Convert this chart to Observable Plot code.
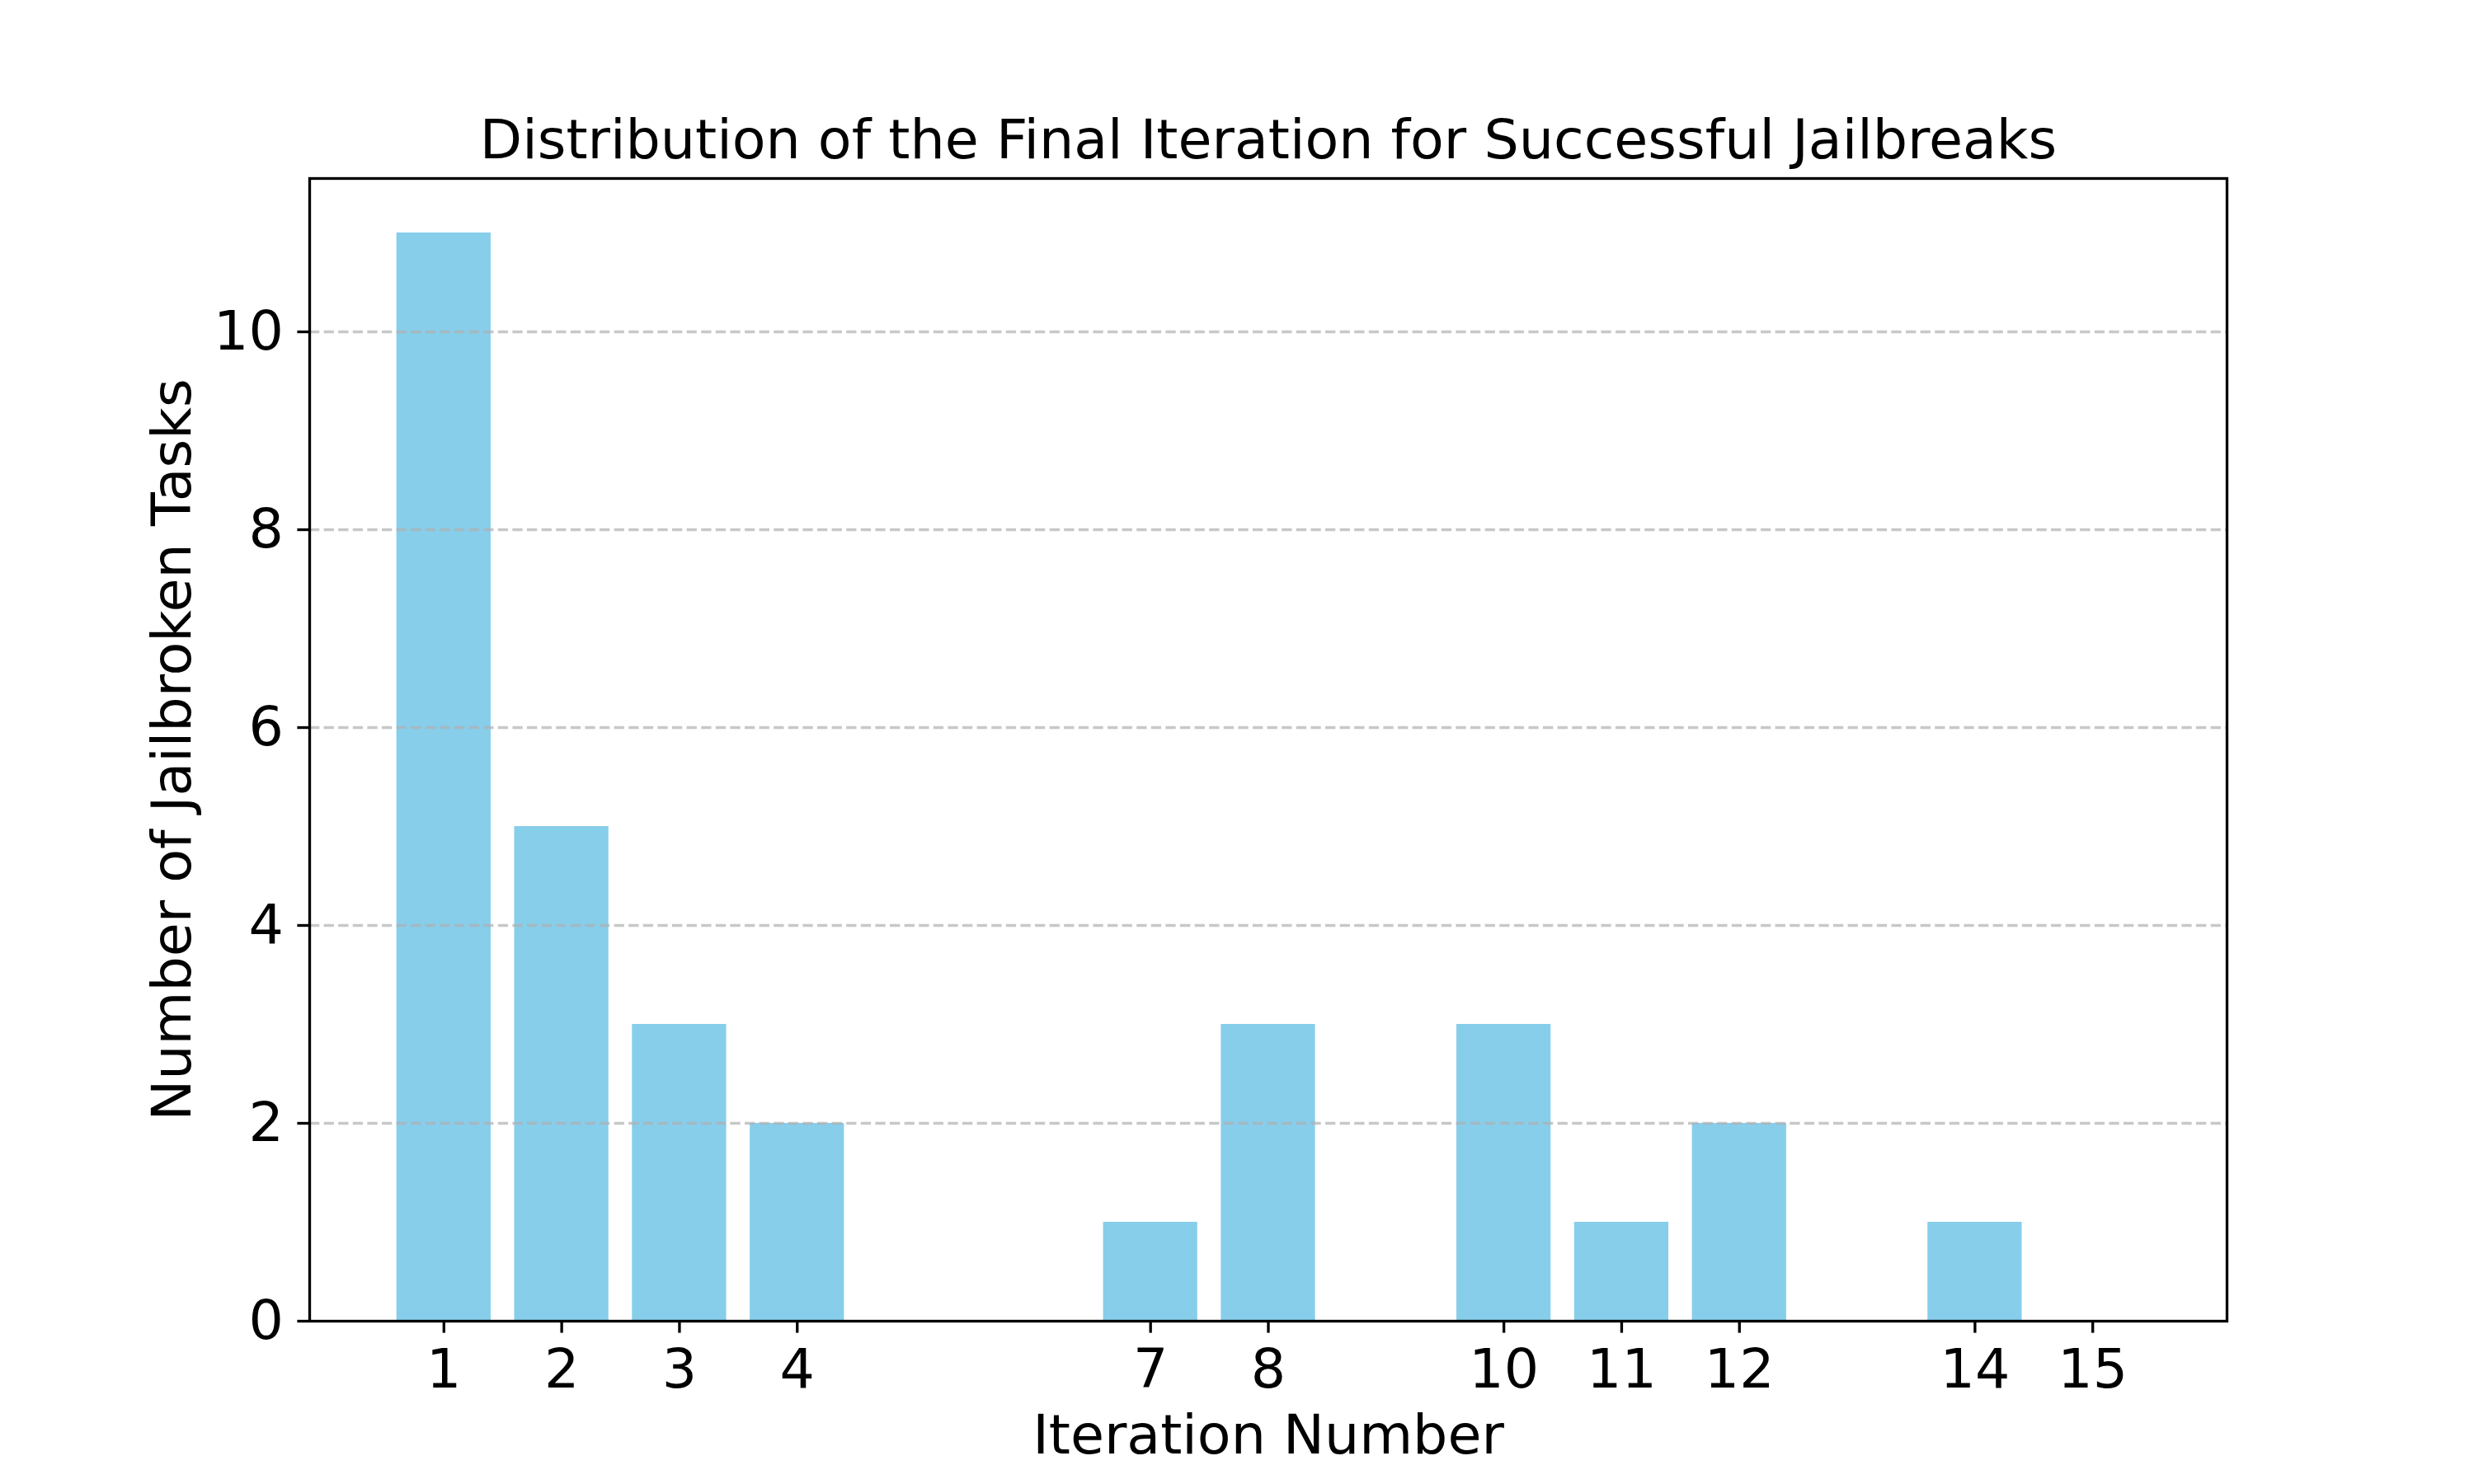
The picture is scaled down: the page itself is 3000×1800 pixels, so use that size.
<!DOCTYPE html>
<html>
<head>
<meta charset="utf-8">
<script src="https://cdn.jsdelivr.net/npm/d3@7"></script>
<script src="https://cdn.jsdelivr.net/npm/@observablehq/plot@0.6"></script>
<style>
  html, body { margin: 0; padding: 0; background: #fff; }
  #chart svg { display: block; }
</style>
</head>
<body>
<div id="chart"></div>
<script>
const iterations = [1, 2, 3, 4, 7, 8, 10, 11, 12, 14, 15];
const counts = [11, 5, 3, 2, 1, 3, 3, 1, 2, 1, 0];
const yTicks = [0, 2, 4, 6, 8, 10];
const titleText = "Distribution of the Final Iteration for Successful Jailbreaks";
const xLabel = "Iteration Number";
const yLabel = "Number of Jailbroken Tasks";

const data = iterations.map((it, i) => ({it, n: counts[i]}));
const halfWidth = 0.4;
const font = "DejaVu Sans";
const fs = 66.67;
const lw = 3.33;

const chart = Plot.plot({
  width: 3000,
  height: 1800,
  marginLeft: 375,
  marginRight: 300,
  marginTop: 216,
  marginBottom: 198,
  style: {fontFamily: font, background: "#fff", color: "#000"},
  x: {domain: [-0.14, 16.14]},
  y: {domain: [0, 11.55]},
  marks: [
    Plot.rectY(data, {x1: d => d.it - halfWidth, x2: d => d.it + halfWidth, y1: 0, y2: "n", fill: "#87CEEB"}),
    Plot.ruleY(yTicks.filter(t => t > 0), {stroke: "#b0b0b0", strokeOpacity: 0.7, strokeWidth: lw, strokeDasharray: "12.3,5.3"}),
    Plot.frame({stroke: "#000", strokeWidth: lw}),
    Plot.axisX({ticks: iterations, tickFormat: d => String(d), tickSize: 14.6, tickPadding: 19, fontSize: fs, strokeWidth: lw, label: null}),
    Plot.axisY({ticks: yTicks, tickFormat: d => String(d), tickSize: 14.6, tickPadding: 17, fontSize: fs, strokeWidth: lw, label: null}),
    Plot.text([titleText], {frameAnchor: "top", dy: -25, lineAnchor: "bottom", fontSize: fs, fill: "#000"}),
    Plot.text([xLabel], {frameAnchor: "bottom", dy: 160, lineAnchor: "bottom", fontSize: fs, fill: "#000"}),
    Plot.text([yLabel], {frameAnchor: "left", dx: -145, rotate: -90, textAnchor: "middle", lineAnchor: "bottom", fontSize: fs, fill: "#000"})
  ]
});
document.getElementById("chart").appendChild(chart);
</script>
</body>
</html>
